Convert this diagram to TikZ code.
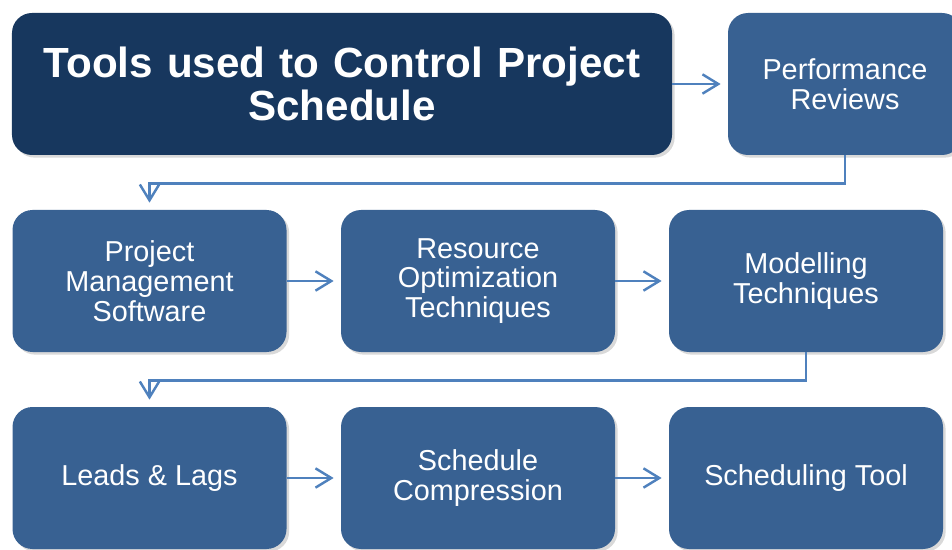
\documentclass[tikz,border=0pt]{standalone}
\usepackage{fontspec}
\setmainfont{Liberation Sans}
\usetikzlibrary{arrows.meta}
\usetikzlibrary{positioning}
\usetikzlibrary{shadows}
\definecolor{mnavy}{RGB}{23, 55, 94}
\definecolor{mbox}{RGB}{56, 97, 146}
\definecolor{mline}{RGB}{79, 129, 189}

\tikzset{
  headbox/.style={fill=mnavy, text=white, rounded corners=0.4cm, inner sep=0pt,
    minimum width=13.2cm, minimum height=2.84cm, text width=12.8cm, align=center,
    font=\fontsize{24}{24.5}\selectfont\bfseries,
    drop shadow={opacity=0.3, shadow xshift=1.5pt, shadow yshift=-1.5pt}},
  toolbox/.style={fill=mbox, text=white, rounded corners=0.4cm, inner sep=0pt,
    minimum width=5.48cm, minimum height=2.84cm, align=center,
    font=\fontsize{16.4}{17}\selectfont,
    drop shadow={opacity=0.3, shadow xshift=1.5pt, shadow yshift=-1.5pt}},
  link/.style={draw=mline, line width=1.4pt, shorten >=0.14cm,
    -{Straight Barb[length=9pt, width=11pt, line width=1.4pt]}}
}

\begin{document}
\begin{tikzpicture}
      \useasboundingbox (0, 0) rectangle (19.04, -11);

      \node [headbox] (title) at (6.84, -1.68) {Tools used to Control Project\\Schedule};
      \node [toolbox, minimum width=4.68cm] (perf) at (16.9, -1.68) {Performance\\Reviews};

      \node [toolbox] (pms) at (2.99, -5.62) {Project\\Management\\Software};
      \node [toolbox] (rot) at (9.56, -5.62) {Resource\\Optimization\\Techniques};
      \node [toolbox] (mod) at (16.12, -5.62) {Modelling\\Techniques};

      \node [toolbox] (leads) at (2.99, -9.56) {Leads \& Lags};
      \node [toolbox] (comp) at (9.56, -9.56) {Schedule\\Compression};
      \node [toolbox] (stool) at (16.12, -9.56) {Scheduling Tool};

      \draw [link] (title.east |- perf) -- (perf.west);
      \draw [link] (perf.south) -- ++(0, -0.56) -| (pms.north);
      \draw [link] (pms.east) -- (rot.west);
      \draw [link] (rot.east) -- (mod.west);
      \draw [link] (mod.south) -- ++(0, -0.56) -| (leads.north);
      \draw [link] (leads.east) -- (comp.west);
      \draw [link] (comp.east) -- (stool.west);
    \end{tikzpicture}
\end{document}
